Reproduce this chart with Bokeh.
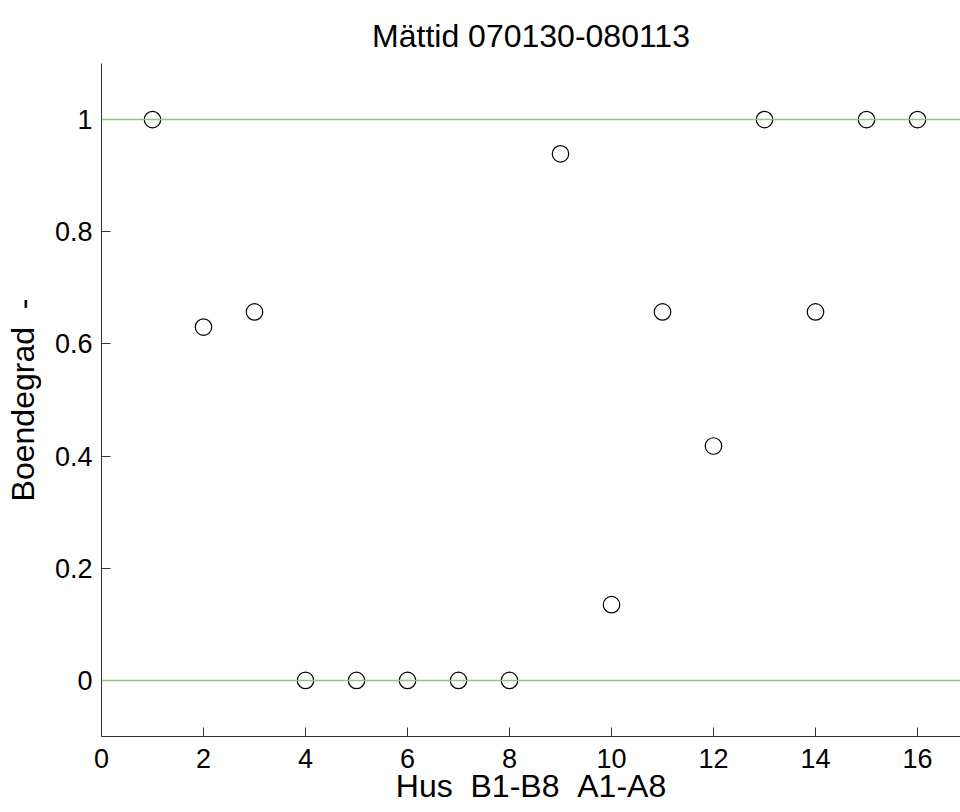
from bokeh.plotting import figure
from bokeh.models import Range1d, FixedTicker, Span
from bokeh.embed import file_html
from bokeh.resources import INLINE

# Data
hus = [1, 2, 3, 4, 5, 6, 7, 8, 9, 10, 11, 12, 13, 14, 15, 16]
boendegrad = [1.0, 0.63, 0.657, 0.0, 0.0, 0.0, 0.0, 0.0, 0.939, 0.135, 0.657, 0.418, 1.0, 0.657, 1.0, 1.0]
x_ticks = [0, 2, 4, 6, 8, 10, 12, 14, 16]
y_ticks = [0, 0.2, 0.4, 0.6, 0.8, 1.0]
ref_levels = [0.0, 1.0]

FONT = "Liberation Sans"
NB = "\u00a0"

p = figure(width=960, height=812, output_backend="svg", toolbar_location=None,
           x_range=Range1d(0, 16.843), y_range=Range1d(-0.1, 1.1),
           min_border_left=101, min_border_right=0, min_border_top=63, min_border_bottom=76,
           title="Mättid 070130-080113")

p.title.text_font = FONT
p.title.text_font_size = "32px"
p.title.text_font_style = "normal"
p.title.align = "center"
p.title.text_color = "black"
p.title.standoff = 20

p.outline_line_color = None
p.xgrid.visible = False
p.ygrid.visible = False

for lvl in ref_levels:
    p.add_layout(Span(location=lvl, dimension="width", line_color="#8cc87c", line_width=1.5))

p.scatter(hus, boendegrad, marker="circle", size=16.5, fill_color=None,
          line_color="black", line_width=1.2)

for ax in (p.xaxis[0], p.yaxis[0]):
    ax.axis_line_color = "#333333"
    ax.major_tick_line_color = "#333333"
    ax.major_tick_in = 9
    ax.major_tick_out = 0
    ax.minor_tick_line_color = None
    ax.major_label_text_font = FONT
    ax.major_label_text_font_size = "27px"
    ax.major_label_text_color = "black"
    ax.axis_label_text_font = FONT
    ax.axis_label_text_font_size = "32px"
    ax.axis_label_text_font_style = "normal"
    ax.axis_label_text_color = "black"

p.xaxis.ticker = FixedTicker(ticks=x_ticks)
p.yaxis.ticker = FixedTicker(ticks=y_ticks)
p.yaxis.major_label_overrides = {0: "0", 0.2: "0.2", 0.4: "0.4", 0.6: "0.6", 0.8: "0.8", 1.0: "1"}
p.xaxis.axis_label = "Hus" + NB + NB + "B1-B8" + NB + NB + "A1-A8"
p.yaxis.axis_label = "Boendegrad" + NB + NB + "-"
p.xaxis.major_label_standoff = 12
p.yaxis.major_label_standoff = 9
p.xaxis.axis_label_standoff = -3
p.yaxis.axis_label_standoff = 11

open("out.html", "w").write(file_html(p, INLINE))
